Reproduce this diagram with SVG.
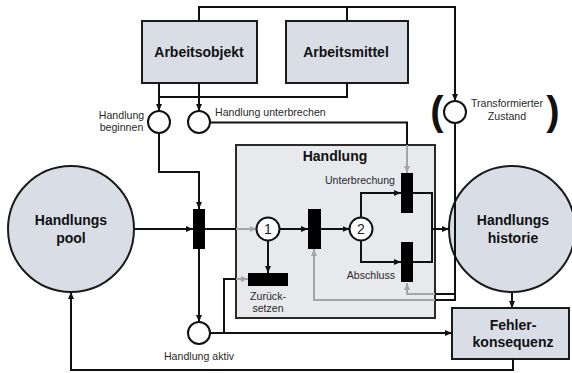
<svg xmlns="http://www.w3.org/2000/svg" width="572" height="373" viewBox="0 0 572 373">
<style>
.node{fill:#d9dee6;stroke:#1a1a1a;stroke-width:2}
.cont{fill:#e7e9ed;stroke:#2a2a2a;stroke-width:2}
.sc{fill:#fff;stroke:#111;stroke-width:2}
.bar{fill:#000}
.ln{fill:none;stroke:#111;stroke-width:2}
.gl{fill:none;stroke:#a5a5a5;stroke-width:2}
.t{font-family:"Liberation Sans",Arial,sans-serif;font-size:10.6px;fill:#2a2a2a}
.b{font-family:"Liberation Sans",Arial,sans-serif;font-size:14px;font-weight:bold;fill:#111;text-anchor:middle}
.n{font-family:"Liberation Sans",Arial,sans-serif;font-size:14px;fill:#222;text-anchor:middle}
.p{font-family:"Liberation Sans",Arial,sans-serif;font-size:40px;font-weight:bold;fill:#111;text-anchor:middle}
</style>
<defs>
<marker id="ab" markerUnits="userSpaceOnUse" markerWidth="8" markerHeight="8" refX="7" refY="3.5" orient="auto"><path d="M0,0.5 L7,3.5 L0,6.5 Z" fill="#111"/></marker>
<marker id="ag" markerUnits="userSpaceOnUse" markerWidth="8" markerHeight="8" refX="7" refY="3.5" orient="auto"><path d="M0,0.5 L7,3.5 L0,6.5 Z" fill="#a5a5a5"/></marker>
</defs>
<g id="handlung">
<rect class="cont" x="236" y="145" width="199" height="173"/>
<text class="b" x="335" y="161">Handlung</text>
</g>
<g id="handlungspool">
<circle class="node" cx="71" cy="229" r="63"/>
<text class="b" x="71" y="225">Handlungs</text>
<text class="b" x="71" y="243">pool</text>
</g>
<g id="handlungshistorie">
<circle class="node" cx="512" cy="229" r="63"/>
<text class="b" x="513" y="225">Handlungs</text>
<text class="b" x="513" y="243">historie</text>
</g>
<g id="fehlerkonsequenz">
<rect class="node" x="452" y="308" width="117" height="51"/>
<text class="b" x="513" y="330">Fehler-</text>
<text class="b" x="513" y="347">konsequenz</text>
</g>
<g id="arbeitsobjekt">
<rect class="node" x="142" y="21" width="115" height="62"/>
<text class="b" x="199" y="57">Arbeitsobjekt</text>
</g>
<g id="arbeitsmittel">
<rect class="node" x="286" y="21" width="122" height="62"/>
<text class="b" x="346" y="57">Arbeitsmittel</text>
</g>
<g id="connectors">
<path class="ln" d="M199,21 V7 H455 V101" marker-end="url(#ab)"/>
<path class="ln" d="M347,21 V7"/>
<path class="ln" d="M159,83 V111" marker-end="url(#ab)"/>
<path class="ln" d="M199,83 V111" marker-end="url(#ab)"/>
<path class="ln" d="M347,83 V97 H159"/>
<path class="ln" d="M210,122.5 H407 V145"/>
<path class="gl" d="M407,145 V173" marker-end="url(#ag)"/>
<path class="ln" d="M159,133 V172 H199 V209" marker-end="url(#ab)"/>
<path class="ln" d="M134,229 H193" marker-end="url(#ab)"/>
<path class="ln" d="M205,229 H236"/>
<path class="gl" d="M236,229 H256.5" marker-end="url(#ag)"/>
<path class="ln" d="M199,249 V322" marker-end="url(#ab)"/>
<path class="ln" d="M210,333 H452" marker-end="url(#ab)"/>
<path class="ln" d="M224,333 V279 H236"/>
<path class="gl" d="M236,279 H248" marker-end="url(#ag)"/>
<path class="ln" d="M268,240.5 V273" marker-end="url(#ab)"/>
<path class="ln" d="M279.5,229 H308" marker-end="url(#ab)"/>
<path class="ln" d="M321,229 H349.5" marker-end="url(#ab)"/>
<path class="ln" d="M361,217.5 V193 H401" marker-end="url(#ab)"/>
<path class="ln" d="M361,240.5 V262 H401" marker-end="url(#ab)"/>
<path class="ln" d="M413,193 H432 V262 H413"/>
<path class="ln" d="M432,229 H449" marker-end="url(#ab)"/>
<path class="ln" d="M455,123 V300 H435 M455,294 H435"/>
<path class="gl" d="M435,294 H407 V283" marker-end="url(#ag)"/>
<path class="gl" d="M435,300 H314 V249" marker-end="url(#ag)"/>
<path class="ln" d="M512,292 V308" marker-end="url(#ab)"/>
<path class="ln" d="M513,359 V370 H71 V292" marker-end="url(#ab)"/>
</g>
<g id="handlung-beginnen">
<circle class="sc" cx="159" cy="122" r="11"/>
<text class="t" x="121.5" y="119" text-anchor="middle">Handlung</text>
<text class="t" x="121.5" y="131" text-anchor="middle">beginnen</text>
</g>
<g id="handlung-unterbrechen">
<circle class="sc" cx="199" cy="122" r="11"/>
<text class="t" x="215" y="115.5">Handlung unterbrechen</text>
</g>
<g id="transformierter-zustand">
<circle class="sc" cx="455" cy="112" r="11"/>
<text class="t" x="507" y="107" text-anchor="middle">Transformierter</text>
<text class="t" x="507" y="120" text-anchor="middle">Zustand</text>
<text class="p" x="437" y="125">(</text>
<text class="p" x="553" y="125">)</text>
</g>
<g id="schalter-start">
<rect class="bar" x="193" y="209" width="12" height="40"/>
</g>
<g id="zustand-1">
<circle class="sc" cx="268" cy="229" r="11.5"/>
<text class="n" x="268" y="234">1</text>
</g>
<g id="zuruecksetzen">
<rect class="bar" x="248" y="273" width="40" height="13"/>
<text class="t" x="268" y="300" text-anchor="middle">Zurück-</text>
<text class="t" x="268" y="312" text-anchor="middle">setzen</text>
</g>
<g id="schalter-mitte">
<rect class="bar" x="308" y="209" width="13" height="40"/>
</g>
<g id="zustand-2">
<circle class="sc" cx="361" cy="229" r="11.5"/>
<text class="n" x="361" y="234">2</text>
</g>
<g id="unterbrechung">
<rect class="bar" x="401" y="173" width="12" height="40"/>
<text class="t" x="395" y="184" text-anchor="end">Unterbrechung</text>
</g>
<g id="abschluss">
<rect class="bar" x="401" y="242" width="12" height="40"/>
<text class="t" x="395" y="279" text-anchor="end">Abschluss</text>
</g>
<g id="handlung-aktiv">
<circle class="sc" cx="199" cy="333" r="11"/>
<text class="t" x="199" y="360" text-anchor="middle">Handlung aktiv</text>
</g>
</svg>
